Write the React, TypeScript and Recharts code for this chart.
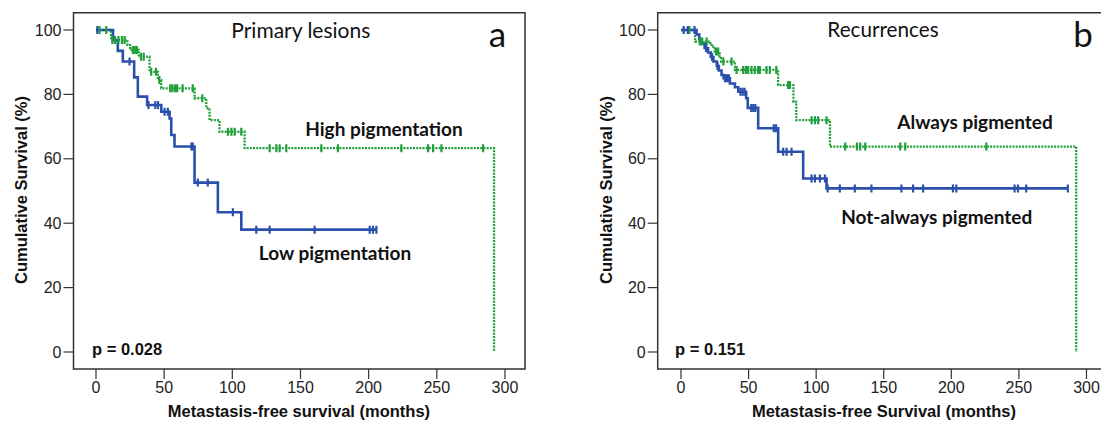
import React from 'react';
import { ComposedChart, Line, Scatter, XAxis, YAxis, ReferenceArea } from 'recharts';

// ---------- shared axis ticks ----------
const xTicks = [0, 50, 100, 150, 200, 250, 300];
const yTicks = [0, 20, 40, 60, 80, 100];

// ---------- panel a : Primary lesions ----------
const aLowTimes = [0, 12.5, 16, 19.7, 28, 30.7, 37.5, 47.9, 54, 55.2, 57.6, 72.3, 89.4, 106.6, 205.7];
const aLowSurv = [100, 96.8, 93.5, 90.2, 85.3, 79.3, 76.7, 74.6, 72.5, 67.4, 63.8, 52.6, 43.4, 38.0, 38.0];
const aLowCensor = [1, 24.6, 38.5, 43.5, 45.5, 50.3, 52.7, 70, 71, 74.7, 82, 100.4, 117.6, 127.4, 160.4, 200.8, 203.2, 205.7];

const aHighTimes = [0, 11.1, 23, 25, 31.4, 39.3, 45.4, 47.9, 72.3, 80.9, 83.3, 90.6, 109, 292];
const aHighSurv = [100, 96.9, 95.3, 93.8, 91.7, 87.0, 84.5, 81.9, 78.8, 75.7, 72.0, 68.4, 63.3, 0];
const aHighCensor = [2.6, 7.5, 12, 14, 16.5, 19, 21, 27, 28.5, 30, 33, 35, 40.5, 44, 46.5, 54.5, 56, 58, 59.5, 63.5, 71, 78, 96.8, 99.3, 101.7, 106.6, 127.4, 132.3, 134.7, 139.6, 165.3, 177.5, 224, 243.6, 247.3, 253.4, 284];

// ---------- panel b : Recurrences ----------
const bNotTimes = [0, 11.5, 13.5, 15.5, 17.5, 20, 22, 24, 26.5, 28, 30, 31.5, 36.2, 39.9, 42.4, 48.2, 49.4, 57.1, 71.9, 90.4, 107.7, 286.2];
const bNotSurv = [100, 98.6, 97.2, 95.8, 94.4, 93.0, 91.6, 90.2, 88.8, 87.4, 86.0, 85.0, 83.4, 82.2, 80.8, 78.8, 75.8, 69.5, 62.2, 53.9, 50.8, 50.8];
const bNotCensor = [2, 5, 10, 18.5, 23, 27, 32.5, 34, 35.5, 44, 45.5, 47, 52, 53.5, 55, 68.6, 70.3, 75.6, 78.1, 81.8, 96.6, 99.1, 102.8, 106.5, 108.5, 117.5, 128.6, 140.9, 163.1, 171.7, 179.1, 201.2, 203.7, 246.8, 249.3, 255.4, 286.2];

const bAlwTimes = [0, 10.4, 21.4, 22.7, 25, 28.6, 29.7, 39.9, 71.9, 83.2, 85.3, 110.2, 292.4];
const bAlwSurv = [100, 96.4, 95.9, 94.8, 93.3, 91.7, 90.2, 87.6, 82.9, 77.7, 72.0, 63.8, 0];
const bAlwCensor = [6.2, 14, 15.5, 19, 26, 27.5, 31.3, 37.4, 41.1, 46, 48, 49.7, 52.2, 54.6, 57.1, 58.3, 63.2, 65.7, 70.5, 79.3, 80.6, 96.6, 99.1, 101.5, 107.7, 121.5, 130.2, 132.6, 136.3, 162.2, 165.9, 225.9];

const BLUE = '#2a50ac';
const GREEN = '#1f9f3a';
const FRAME = '#333';
const Y_DOMAIN: [number, number] = [-5.28, 105.37];

function stepPoints(times: number[], surv: number[]) {
  return times.map((t, i) => ({ t, s: surv[i] }));
}
function censorPoints(times: number[], stepT: number[], stepS: number[]) {
  return times.map((t) => {
    let s = stepS[0];
    for (let i = 0; i < stepT.length; i++) {
      if (stepT[i] <= t && stepS[i] > 0) s = stepS[i];
    }
    return { t, s };
  });
}

const mark = (color: string) => (props: any) => {
  const { cx, cy } = props;
  if (cx == null || cy == null) return <g />;
  return <line x1={cx} x2={cx} y1={cy - 4} y2={cy + 4} stroke={color} strokeWidth={2.2} />;
};

const tickStyle = { fontFamily: '"Liberation Sans", Arial, sans-serif', fontSize: 16, fill: '#222' };

type PanelProps = {
  xDomain: [number, number];
  yAxisWidth: number;
  marginRight: number;
  green: { t: number; s: number }[];
  greenC: { t: number; s: number }[];
  blue: { t: number; s: number }[];
  blueC: { t: number; s: number }[];
};

function Panel(p: PanelProps) {
  return (
    <ComposedChart width={530} height={424} margin={{ top: 12.7, right: p.marginRight, bottom: 0, left: 0 }}>
      <XAxis
        dataKey="t"
        type="number"
        domain={p.xDomain}
        allowDataOverflow
        ticks={xTicks}
        height={55}
        tickSize={10}
        tickMargin={3}
        axisLine={false}
        tickLine={{ stroke: FRAME, strokeWidth: 1.2 }}
        tick={tickStyle}
        interval={0}
      />
      <YAxis
        dataKey="s"
        type="number"
        domain={Y_DOMAIN}
        allowDataOverflow
        ticks={yTicks}
        width={p.yAxisWidth}
        tickSize={10}
        tickMargin={2}
        axisLine={false}
        tickLine={{ stroke: FRAME, strokeWidth: 1.2 }}
        tick={tickStyle}
        interval={0}
      />
      <ReferenceArea
        x1={p.xDomain[0]}
        x2={p.xDomain[1]}
        y1={Y_DOMAIN[0]}
        y2={Y_DOMAIN[1]}
        fill="none"
        fillOpacity={0}
        stroke={FRAME}
        strokeWidth={1.5}
        ifOverflow="visible"
      />
      <Line
        data={p.green}
        dataKey="s"
        type="stepAfter"
        stroke={GREEN}
        strokeWidth={2.3}
        strokeDasharray="2 1.2"
        dot={false}
        activeDot={false}
        isAnimationActive={false}
      />
      <Line
        data={p.blue}
        dataKey="s"
        type="stepAfter"
        stroke={BLUE}
        strokeWidth={2.6}
        dot={false}
        activeDot={false}
        isAnimationActive={false}
      />
      <Scatter data={p.greenC} dataKey="s" shape={mark(GREEN)} isAnimationActive={false} />
      <Scatter data={p.blueC} dataKey="s" shape={mark(BLUE)} isAnimationActive={false} />
    </ComposedChart>
  );
}

const boldArial = { fontFamily: '"Liberation Sans", Arial, sans-serif', fontWeight: 700 as const, fontSize: 16.5, fill: '#111' };
const calibriLike = { fontFamily: 'Lato, "Open Sans", sans-serif', fill: '#111' };

export default function App() {
  const aGreen = stepPoints(aHighTimes, aHighSurv);
  const aBlue = stepPoints(aLowTimes, aLowSurv);
  const bGreen = stepPoints(bAlwTimes, bAlwSurv);
  const bBlue = stepPoints(bNotTimes, bNotSurv);
  return (
    <div style={{ position: 'absolute', left: 0, top: 0, width: 1101, height: 424, overflow: 'hidden', background: '#fff' }}>
      <div style={{ position: 'absolute', left: 0, top: 0 }}>
        <Panel
          xDomain={[-16.5, 314.7]}
          yAxisWidth={73.5}
          marginRight={5}
          green={aGreen}
          greenC={censorPoints(aHighCensor, aHighTimes, aHighSurv)}
          blue={aBlue}
          blueC={censorPoints(aLowCensor, aLowTimes, aLowSurv)}
        />
      </div>
      <div style={{ position: 'absolute', left: 580, top: 0 }}>
        <Panel
          xDomain={[-17.24, 317.4]}
          yAxisWidth={77.7}
          marginRight={0}
          green={bGreen}
          greenC={censorPoints(bAlwCensor, bAlwTimes, bAlwSurv)}
          blue={bBlue}
          blueC={censorPoints(bNotCensor, bNotTimes, bNotSurv)}
        />
      </div>
      <svg width={1101} height={424} style={{ position: 'absolute', left: 0, top: 0, pointerEvents: 'none' }}>
        {/* panel a texts */}
        <text x={300.8} y={38.3} textAnchor="middle" fontSize={21} {...calibriLike}>Primary lesions</text>
        <text x={497.5} y={47} textAnchor="middle" fontSize={35} {...calibriLike}>a</text>
        <text x={384} y={136} textAnchor="middle" fontSize={19} fontWeight={700} {...calibriLike}>High pigmentation</text>
        <text x={335} y={259.5} textAnchor="middle" fontSize={19} fontWeight={700} {...calibriLike}>Low pigmentation</text>
        <text x={92} y={355} {...boldArial}>p = 0.028</text>
        <text x={299} y={411} textAnchor="middle" dominantBaseline="central" {...boldArial}>Metastasis-free survival (months)</text>
        <text transform="translate(21,190) rotate(-90)" textAnchor="middle" dominantBaseline="central" {...boldArial}>Cumulative Survival (%)</text>
        {/* panel b texts */}
        <text x={883} y={37} textAnchor="middle" fontSize={20.7} {...calibriLike}>Recurrences</text>
        <text x={1083} y={47} textAnchor="middle" fontSize={35} {...calibriLike}>b</text>
        <text x={975} y={128.5} textAnchor="middle" fontSize={19} fontWeight={700} {...calibriLike}>Always pigmented</text>
        <text x={936.7} y={223.5} textAnchor="middle" fontSize={19} fontWeight={700} {...calibriLike}>Not-always pigmented</text>
        <text x={675} y={355} {...boldArial}>p = 0.151</text>
        <text x={884} y={411} textAnchor="middle" dominantBaseline="central" {...boldArial}>Metastasis-free Survival (months)</text>
        <text transform="translate(606,190) rotate(-90)" textAnchor="middle" dominantBaseline="central" {...boldArial}>Cumulative Survival (%)</text>
      </svg>
    </div>
  );
}
